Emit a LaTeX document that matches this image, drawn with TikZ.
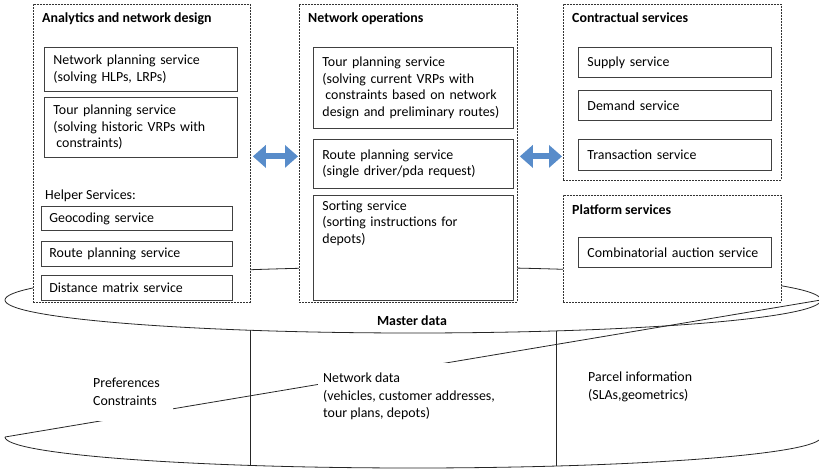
\documentclass[tikz,border=0pt]{standalone}
\usepackage{fontspec}
\setmainfont{Carlito}
\usepackage{tikz}
\usetikzlibrary{positioning, arrows.meta}
\definecolor{arrowblue}{RGB}{88,140,202}
\tikzstyle{group}=[draw=black!80, dash pattern=on 2pt off 1pt, line width=0.8pt, fill=white, anchor=north west, inner sep=0pt]
\tikzstyle{grptitle}=[anchor=base west, font=\fontsize{13.9}{16.5}\selectfont\bfseries, inner sep=0pt]
\tikzstyle{svc}=[draw=black!75, line width=0.9pt, fill=white, anchor=north west, align=left, inner xsep=9pt, inner ysep=0pt, font=\fontsize{13.9}{16.5}\selectfont]
\tikzstyle{dtext}=[fill=white, align=left, anchor=north west, inner xsep=5pt, inner ysep=10pt, font=\fontsize{13.9}{17.5}\selectfont]
\tikzstyle{dline}=[draw=black!85, line width=0.8pt]
\tikzstyle{dblarrow}=[arrowblue, line width=6pt, {Triangle[length=13pt,width=22pt]}-{Triangle[length=13pt,width=22pt]}, shorten <=2pt, shorten >=1pt]
\tikzset{>=stealth}

\begin{document}
\begin{tikzpicture}[x=1pt, y=-1pt]
\useasboundingbox (0,0) rectangle (819,470);
% master data cylinder
\coordinate (topc) at (413,300);
\coordinate (topE) at (821,300);
\coordinate (botW) at (5,437);
\coordinate (d1t) at (250,330);
\coordinate (d1b) at (250,465);
\coordinate (d2t) at (556,331);
\coordinate (d2b) at (556,466);
\draw[dline] (topc) ellipse [x radius=408, y radius=33];
\draw[dline] (botW) arc [start angle=180, end angle=0, x radius=408, y radius=31];
\draw[dline] (botW) -- (topE);
\draw[dline] (d1t) -- (d1b);
\draw[dline] (d2t) -- (d2b);
\node[font=\fontsize{13.9}{16.5}\selectfont\bfseries] (master) at (412,321) {Master data};
\node[dtext, inner ysep=16pt, text width=75pt] (pref) at (88,362) {Preferences\\Constraints};
\node[dtext] (netdata) at (318,363) {Network data\\(vehicles, customer addresses,\\tour plans, depots)};
\node[dtext] (parcel) at (583,362) {Parcel information\\(SLAs,geometrics)};
% service groups
\node[group, minimum width=217pt, minimum height=298pt] (ana) at (33,4) {};
\node[group, minimum width=218pt, minimum height=298pt] (ops) at (299,4) {};
\node[group, minimum width=218pt, minimum height=176pt] (con) at (563,4) {};
\node[group, minimum width=218pt, minimum height=107pt] (plt) at (563,195) {};
\node[grptitle] (anat) at (42,23) {Analytics and network design};
\node[grptitle] (opst) at (308,23) {Network operations};
\node[grptitle] (cont) at (572,23) {Contractual services};
\node[grptitle] (pltt) at (572,215) {Platform services};
% analytics
\node[svc, text width=175pt, minimum height=44pt] (netplan) at (44,47) {Network planning service\\(solving HLPs, LRPs)};
\node[svc, text width=175pt, minimum height=60pt] (histtour) at (44,97) {Tour planning service\\(solving historic VRPs with\\\hspace*{3pt}constraints)};
\node[anchor=base west, inner sep=0pt, font=\fontsize{13.9}{16.5}\selectfont] (helper) at (45,200) {Helper Services:};
\node[svc, inner xsep=8pt, text width=175pt, minimum height=24pt] (geo) at (41,206) {Geocoding service};
\node[svc, inner xsep=8pt, text width=175pt, minimum height=25pt] (route) at (41,241) {Route planning service};
\node[svc, inner xsep=8pt, text width=175pt, minimum height=25pt] (dist) at (41,275) {Distance matrix service};
% operations
\node[svc, text width=182pt, minimum height=81pt] (curtour) at (313,47) {Tour planning service\\(solving current VRPs with\\\hspace*{3pt}constraints based on network\\design and preliminary routes)};
\node[svc, text width=182pt, minimum height=49pt] (single) at (313,139) {Route planning service\\(single driver/pda request)};
\node[svc, text width=182pt, inner ysep=5pt, text height=10pt, text depth=85pt] (sort) at (313,195) {Sorting service\\(sorting instructions for\\depots)};
% contractual and platform
\node[svc, text width=175pt, minimum height=30pt] (supply) at (578,47) {Supply service};
\node[svc, text width=175pt, minimum height=30pt] (demand) at (578,90) {Demand service};
\node[svc, text width=175pt, minimum height=31pt] (trans) at (578,139) {Transaction service};
\node[svc, text width=175pt, minimum height=30pt] (auction) at (578,237) {Combinatorial auction service};
% links
\draw[dblarrow] ([yshift=-3pt]ana.east) -- ([yshift=-3pt]ana.east -| ops.west);
\draw[dblarrow] ([yshift=-3pt]ops.east) -- ([yshift=-3pt]ops.east -| con.west);
\end{tikzpicture}
\end{document}
